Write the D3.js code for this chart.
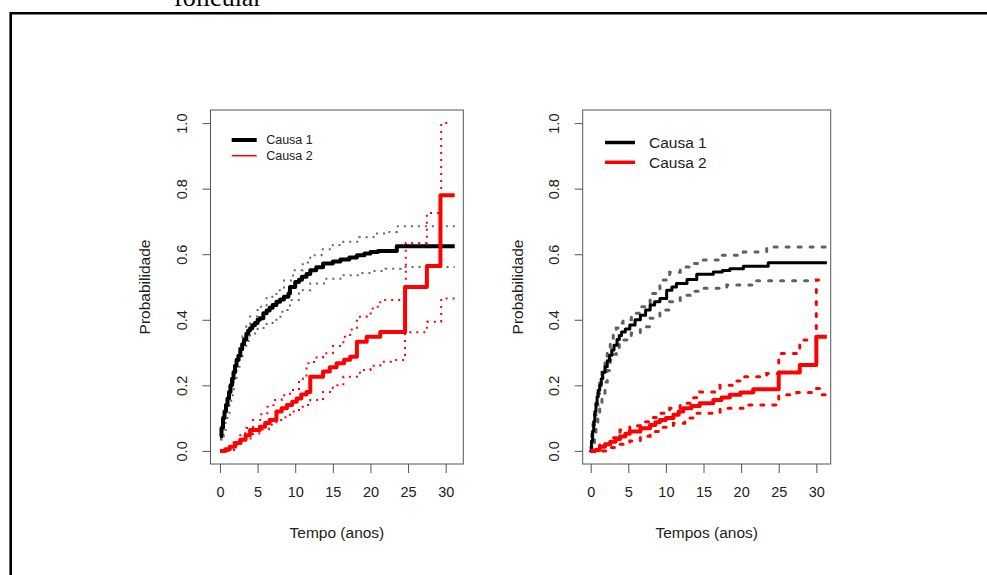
<!DOCTYPE html>
<html>
  <head>
    <meta charset="utf-8">
    <title>Incidência acumulada</title>
    <script src="https://d3js.org/d3.v7.min.js"></script>
    <style>
      body { margin: 0; background: #ffffff; }
      text { font-family: "Liberation Sans", Arial, sans-serif; fill: #222222; }
    </style>
  </head>
  <body>
    <svg width="987" height="575"></svg>
    <script>
      // eixos
      var xTicks = [0, 5, 10, 15, 20, 25, 30];
      var yTicks = [0, 0.2, 0.4, 0.6, 0.8, 1.0];
      var legendLabels = ["Causa 1", "Causa 2"];

      // painel esquerdo: [tempo, probabilidade]
      var esqCausa1 = [[0,0.044],[0.2,0.07],[0.4,0.10],[0.6,0.12],[0.8,0.14],[1.0,0.16],[1.2,0.18],[1.4,0.2],[1.6,0.22],[1.8,0.24],[2.0,0.26],[2.2,0.277],[2.45,0.29],[2.7,0.31],[2.95,0.325],[3.2,0.34],[3.5,0.357],[3.75,0.367],[4.0,0.374],[4.3,0.383],[4.65,0.39],[5.0,0.40],[5.3,0.405],[5.76,0.42],[6.2,0.428],[6.6,0.437],[7.0,0.445],[7.5,0.455],[8.0,0.462],[8.5,0.47],[9.1,0.48],[9.3,0.50],[10.0,0.515],[10.5,0.522],[10.9,0.531],[11.5,0.54],[12.0,0.551],[12.8,0.56],[13.7,0.572],[15.0,0.578],[16.0,0.584],[17.2,0.59],[18.2,0.597],[19.2,0.602],[20.0,0.607],[21.0,0.61],[23.5,0.624],[31.2,0.624]];
      var esqCausa1Sup = [[0,0.05],[0.25,0.08],[0.5,0.11],[0.75,0.14],[1.0,0.17],[1.25,0.195],[1.5,0.22],[1.85,0.255],[2.2,0.287],[2.6,0.32],[3.0,0.35],[3.5,0.38],[4.0,0.41],[5.0,0.44],[6.2,0.47],[7.5,0.49],[8.5,0.52],[9.7,0.551],[11.0,0.575],[12.0,0.597],[13.5,0.615],[15.0,0.628],[16.4,0.638],[18.5,0.652],[20.4,0.663],[22.0,0.668],[23.5,0.685],[31.2,0.685]];
      var esqCausa1Inf = [[0,0.035],[0.25,0.045],[0.5,0.06],[0.75,0.085],[1.0,0.11],[1.25,0.14],[1.5,0.17],[1.85,0.215],[2.2,0.257],[2.6,0.285],[3.0,0.31],[3.5,0.335],[4.0,0.358],[5.0,0.375],[6.2,0.39],[7.5,0.409],[8.3,0.43],[9.3,0.46],[10.5,0.49],[12.0,0.511],[14.0,0.525],[16.4,0.536],[18.5,0.543],[20.4,0.549],[22.0,0.556],[24.0,0.561],[31.2,0.561]];
      var esqCausa2 = [[0,0],[0.7,0.005],[1.3,0.013],[2.0,0.024],[2.7,0.034],[3.4,0.048],[4.0,0.064],[5.3,0.074],[6.0,0.085],[6.6,0.094],[7.5,0.12],[8.2,0.13],[8.9,0.14],[9.6,0.15],[10.2,0.16],[10.8,0.172],[11.5,0.18],[12.0,0.226],[13.7,0.242],[14.6,0.255],[15.5,0.267],[16.5,0.278],[17.3,0.287],[18.2,0.333],[19.5,0.348],[21.3,0.363],[24.6,0.50],[27.5,0.564],[29.3,0.78],[31.2,0.78]];
      var esqCausa2Sup = [[0,0],[1.0,0.01],[1.8,0.03],[2.7,0.054],[3.5,0.07],[4.4,0.094],[5.5,0.115],[6.3,0.135],[7.1,0.155],[8.2,0.17],[9.3,0.186],[10.5,0.22],[11.5,0.267],[12.5,0.285],[13.7,0.298],[15.0,0.32],[16.4,0.348],[17.3,0.37],[18.2,0.409],[19.5,0.419],[20.3,0.44],[21.3,0.46],[24.7,0.634],[27.5,0.726],[29.4,1.0],[30.8,1.0]];
      var esqCausa2Inf = [[0,0],[1.2,0.003],[2.2,0.023],[3.3,0.038],[4.4,0.054],[5.5,0.065],[6.5,0.08],[7.5,0.094],[8.7,0.11],[9.8,0.125],[11.0,0.14],[12.0,0.155],[13.7,0.18],[15.0,0.2],[16.4,0.226],[18.6,0.247],[20.0,0.26],[21.3,0.272],[23.0,0.277],[24.6,0.362],[27.5,0.394],[29.4,0.465],[31.2,0.465]];

      // painel direito
      var dirCausa1 = [[0,0],[0.1,0.03],[0.25,0.06],[0.4,0.09],[0.55,0.12],[0.7,0.145],[0.85,0.165],[1.0,0.185],[1.2,0.2],[1.4,0.22],[1.6,0.24],[1.9,0.257],[2.2,0.275],[2.5,0.292],[2.8,0.308],[3.1,0.322],[3.5,0.34],[3.8,0.352],[4.1,0.363],[4.6,0.372],[5.2,0.384],[5.9,0.4],[6.6,0.414],[7.3,0.43],[7.9,0.445],[8.5,0.455],[9.2,0.465],[10.1,0.49],[10.8,0.5],[11.4,0.511],[12.8,0.523],[14.1,0.539],[16.3,0.546],[17.5,0.55],[18.5,0.556],[20.3,0.563],[23.6,0.574],[31.4,0.574]];
      var dirCausa1Sup = [[0,0.01],[0.15,0.05],[0.3,0.08],[0.5,0.11],[0.7,0.14],[0.95,0.175],[1.2,0.206],[1.5,0.24],[1.9,0.28],[2.2,0.31],[2.6,0.338],[3.0,0.358],[3.4,0.375],[3.8,0.39],[4.3,0.40],[5.4,0.42],[6.6,0.44],[7.9,0.48],[9.2,0.521],[10.5,0.545],[11.9,0.561],[13.2,0.572],[14.5,0.582],[17.2,0.597],[20.3,0.607],[23.4,0.622],[31.2,0.622]];
      var dirCausa1Inf = [[0,0],[0.3,0.02],[0.5,0.045],[0.7,0.07],[0.95,0.1],[1.2,0.135],[1.5,0.17],[1.9,0.21],[2.2,0.245],[2.6,0.277],[3.0,0.295],[3.4,0.31],[3.8,0.325],[4.3,0.338],[5.4,0.36],[6.6,0.379],[7.9,0.405],[9.2,0.43],[10.5,0.455],[11.9,0.475],[13.2,0.487],[14.5,0.496],[18.1,0.506],[21.6,0.519],[30.0,0.519]];
      var dirCausa2 = [[0,0],[0.6,0.003],[1.2,0.013],[1.9,0.02],[2.6,0.028],[3.3,0.036],[3.9,0.044],[4.6,0.052],[5.2,0.059],[6.6,0.069],[7.9,0.079],[8.6,0.087],[9.2,0.094],[10.0,0.1],[11.0,0.11],[11.7,0.12],[12.3,0.13],[13.4,0.137],[14.5,0.145],[16.3,0.155],[17.4,0.163],[18.5,0.171],[19.9,0.178],[21.6,0.188],[25.0,0.239],[27.8,0.262],[30.0,0.348],[31.4,0.348]];
      var dirCausa2Sup = [[0,0],[0.6,0.01],[1.2,0.02],[2.5,0.04],[3.9,0.064],[5.2,0.077],[6.6,0.089],[7.9,0.102],[9.2,0.115],[10.5,0.13],[11.9,0.145],[13.2,0.162],[14.5,0.18],[17.2,0.2],[18.8,0.213],[20.3,0.226],[23.4,0.236],[25.0,0.297],[27.8,0.338],[30.0,0.521],[30.3,0.521]];
      var dirCausa2Inf = [[0,0],[1.5,0],[2.6,0.01],[3.9,0.02],[5.2,0.03],[6.6,0.045],[7.9,0.059],[9.5,0.072],[11.0,0.084],[12.5,0.1],[14.1,0.115],[17.2,0.13],[20.7,0.14],[25.0,0.171],[27.4,0.178],[29.8,0.19],[30.6,0.171],[31.4,0.171]];

      var svg = d3.select("svg");

      // texto cortado do documento e moldura
      svg.append("text")
          .attr("x", 174)
          .attr("y", 6)
          .style("font-family", "'Liberation Serif', 'Times New Roman', serif")
          .style("font-size", "26px")
          .style("fill", "#000")
          .text("folicular");

      svg.append("path")
          .attr("d", "M10.7,575 V13.3 H987")
          .attr("fill", "none")
          .attr("stroke", "#000")
          .attr("stroke-width", 2.6);

      var yScale = d3.scaleLinear().domain([-0.04, 1.04]).range([464, 110]);

      function drawPanel(p) {
        var xScale = d3.scaleLinear().domain(p.xDomain).range([p.left, p.right]);
        var g = svg.append("g");

        var line = d3.line()
            .x(function(d) { return xScale(d[0]); })
            .y(function(d) { return yScale(d[1]); })
            .curve(d3.curveStepAfter);

        // bandas de confiança
        p.bands.forEach(function(b) {
          g.append("path")
              .attr("d", line(b.data))
              .attr("fill", "none")
              .attr("stroke", b.color)
              .attr("stroke-width", p.dotWidth)
              .attr("stroke-dasharray", p.dash)
              .attr("stroke-linecap", p.dotCap);
        });

        // curvas
        p.curves.forEach(function(c) {
          g.append("path")
              .attr("d", line(c.data))
              .attr("fill", "none")
              .attr("stroke", c.color)
              .attr("stroke-width", c.width)
              .attr("stroke-linejoin", "round");
        });

        // caixa
        g.append("rect")
            .attr("x", p.left)
            .attr("y", 110)
            .attr("width", p.right - p.left)
            .attr("height", 464 - 110)
            .attr("fill", "none")
            .attr("stroke", "#555")
            .attr("stroke-width", 1);

        var xAxis = d3.axisBottom(xScale).tickValues(xTicks).tickSize(9).tickSizeOuter(0).tickPadding(14);
        var gx = g.append("g").attr("transform", "translate(0,464)").call(xAxis);
        gx.select(".domain").remove();
        gx.selectAll("line").attr("stroke", "#555");
        gx.selectAll("text").style("font-size", "14.5px").style("font-family", null).attr("fill", "#222");

        var yAxis = d3.axisLeft(yScale).tickValues(yTicks).tickSize(8).tickSizeOuter(0).tickFormat(d3.format(".1f"));
        var gy = g.append("g").attr("transform", "translate(" + p.left + ",0)").call(yAxis);
        gy.select(".domain").remove();
        gy.selectAll("line").attr("stroke", "#555");
        gy.selectAll("text")
            .attr("x", null)
            .attr("text-anchor", "middle")
            .attr("transform", "translate(-28.3,0) rotate(-90)")
            .attr("dy", "0.35em")
            .style("font-size", "14.5px").style("font-family", null).attr("fill", "#222");

        // títulos
        g.append("text")
            .attr("x", (p.left + p.right) / 2)
            .attr("y", 538)
            .attr("text-anchor", "middle")
            .style("font-size", "15.5px")
            .text(p.xTitle);

        g.append("text")
            .attr("transform", "translate(" + (p.left - 65.5) + ",287) rotate(-90)")
            .attr("dy", "0.35em")
            .attr("text-anchor", "middle")
            .style("font-size", "15.5px")
            .text("Probabilidade");

        // legenda
        p.curves.forEach(function(c, i) {
          var ly = p.legY + i * p.legGap;
          g.append("line")
              .attr("x1", p.legX).attr("x2", p.legX + p.legLen)
              .attr("y1", ly).attr("y2", ly)
              .attr("stroke", c.color)
              .attr("stroke-width", c.legWidth);
          g.append("text")
              .attr("x", p.legX + p.legLen + p.legPad)
              .attr("y", ly)
              .attr("dy", "0.35em")
              .style("font-size", p.legFont)
              .text(legendLabels[i]);
        });
      }

      drawPanel({
        left: 210.5, right: 463.3, xDomain: [-1.26, 32.34],
        xTitle: "Tempo (anos)",
        dotWidth: 2, dash: "2,5", dotCap: "butt",
        bands: [
          { data: esqCausa1Sup, color: "#666666" },
          { data: esqCausa1Inf, color: "#666666" },
          { data: esqCausa2Sup, color: "#ff0000" },
          { data: esqCausa2Inf, color: "#ff0000" }
        ],
        curves: [
          { data: esqCausa1, color: "#000000", width: 4, legWidth: 4 },
          { data: esqCausa2, color: "#ff0000", width: 4, legWidth: 1.5 }
        ],
        legX: 231.7, legLen: 25, legPad: 9.5, legY: 140, legGap: 15.7, legFont: "12.5px"
      });

      drawPanel({
        left: 582.7, right: 830.7, xDomain: [-1.064, 31.91],
        xTitle: "Tempos (anos)",
        dotWidth: 3, dash: "3,9", dotCap: "round",
        bands: [
          { data: dirCausa1Sup, color: "#606060" },
          { data: dirCausa1Inf, color: "#606060" },
          { data: dirCausa2Sup, color: "#ff0000" },
          { data: dirCausa2Inf, color: "#ff0000" }
        ],
        curves: [
          { data: dirCausa1, color: "#000000", width: 3, legWidth: 3.5 },
          { data: dirCausa2, color: "#ff0000", width: 4, legWidth: 3.5 }
        ],
        legX: 605, legLen: 30, legPad: 14, legY: 142.5, legGap: 19.8, legFont: "15.5px"
      });
    </script>
  </body>
</html>
